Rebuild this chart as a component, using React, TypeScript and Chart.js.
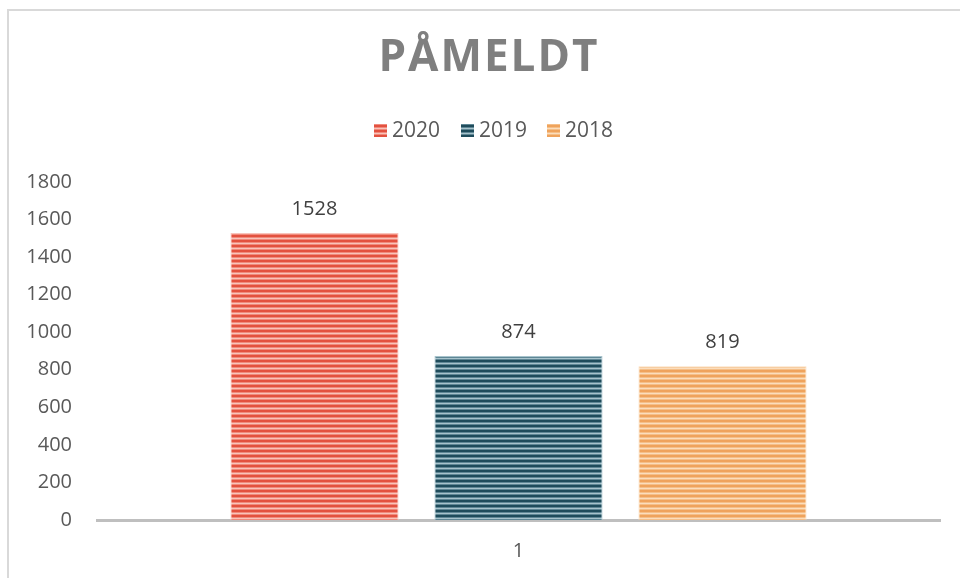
import React, { useEffect, useRef } from "react";
import { Chart, registerables } from "chart.js";

Chart.register(...registerables);

const categories = ["1"];
const seriesNames = ["2020", "2019", "2018"];
const values2020 = [1528];
const values2019 = [874];
const values2018 = [819];
const yTicks = [0, 200, 400, 600, 800, 1000, 1200, 1400, 1600, 1800];
const titleText = "PÅMELDT";

const FONT = "'Open Sans', 'Liberation Sans', sans-serif";
const stripeColors: [string, string, string][] = [
  ["#E3513F", "#F08A7C", "#F9C3BA"],
  ["#1F4C5B", "#5F8795", "#A7C3CC"],
  ["#EFA35C", "#F5BF88", "#FBDDBC"],
];

function makePattern(ctx: CanvasRenderingContext2D, c: [string, string, string]) {
  const p = document.createElement("canvas");
  p.width = 8;
  p.height = 5;
  const g = p.getContext("2d")!;
  const rows = [c[0], c[0], c[1], c[2], c[1]];
  rows.forEach((col, i) => {
    g.fillStyle = col;
    g.fillRect(0, i, 8, 1);
  });
  return ctx.createPattern(p, "repeat")!;
}

export default function App() {
  const ref = useRef<HTMLCanvasElement>(null);
  useEffect(() => {
    const canvas = ref.current!;
    const ctx = canvas.getContext("2d")!;
    const patterns = stripeColors.map((c) => makePattern(ctx, c));
    const seriesValues = [values2020, values2019, values2018];

    const overlay = {
      id: "overlay",
      afterDraw(chart: any) {
        const c = chart.ctx as CanvasRenderingContext2D;
        c.save();
        // title
        c.fillStyle = "#7F7F7F";
        c.font = `bold 44px ${FONT}`;
        (c as any).letterSpacing = "2px";
        c.textAlign = "center";
        c.textBaseline = "middle";
        c.fillText(titleText, 489, 58);
        (c as any).letterSpacing = "0px";
        // legend
        c.font = `21px ${FONT}`;
        c.textAlign = "left";
        const boxX = [374, 461, 547];
        seriesNames.forEach((n, i) => {
          c.fillStyle = patterns[i];
          c.fillRect(boxX[i], 124, 13, 13);
          c.fillStyle = "#595959";
          c.fillText(n, boxX[i] + 18, 131);
        });
        // data labels
        c.font = `20px ${FONT}`;
        c.textAlign = "center";
        c.fillStyle = "#404040";
        chart.data.datasets.forEach((ds: any, di: number) => {
          const meta = chart.getDatasetMeta(di);
          meta.data.forEach((bar: any, i: number) => {
            c.fillText(String(ds.data[i]), bar.x, bar.y - 24);
          });
        });
        c.restore();
      },
    };

    const chart = new Chart(canvas, {
      type: "bar",
      data: {
        labels: categories,
        datasets: seriesNames.map((n, i) => ({
          label: n,
          data: seriesValues[i],
          backgroundColor: patterns[i],
          borderColor: stripeColors[i][2],
          borderWidth: 1,
          categoryPercentage: 0.726,
          barPercentage: 0.824,
        })),
      },
      options: {
        responsive: false,
        animation: false,
        layout: { padding: { left: 0, right: 20, top: 182, bottom: 0 } },
        plugins: {
          legend: { display: false },
          title: { display: false },
          tooltip: { enabled: false },
        },
        scales: {
          x: {
            grid: { display: false, drawTicks: false },
            border: { display: true, color: "#BFBFBF", width: 3 },
            ticks: { color: "#595959", font: { family: FONT, size: 20 }, padding: 19 },
            afterFit: (s: any) => {
              s.height = 58;
            },
          },
          y: {
            min: 0,
            max: 1800,
            afterBuildTicks: (s: any) => {
              s.ticks = yTicks.map((v) => ({ value: v }));
            },
            grid: { display: false, drawTicks: false },
            border: { display: false },
            ticks: {
              color: "#595959",
              font: { family: FONT, size: 20 },
              padding: 25,
              callback: (v: any) => String(v),
            },
            afterFit: (s: any) => {
              s.width = 97;
            },
          },
        },
      },
      plugins: [overlay],
    });
    return () => chart.destroy();
  }, []);

  return (
    <div style={{ position: "fixed", left: 0, top: 0, width: 960, height: 578, overflow: "hidden", background: "#fff" }}>
      <div
        style={{
          position: "absolute",
          left: 7,
          top: 9,
          width: 2000,
          height: 2000,
          border: "2px solid #D9D9D9",
        }}
      />
      <canvas ref={ref} width={960} height={578} style={{ position: "absolute", left: 0, top: 0 }} />
    </div>
  );
}
